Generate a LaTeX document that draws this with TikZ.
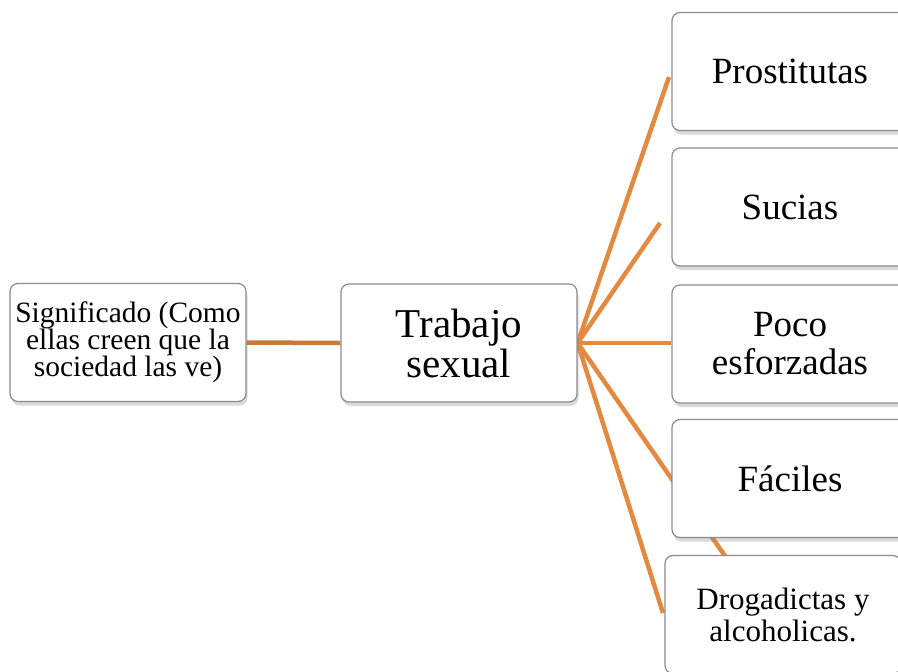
\documentclass[tikz,border=0pt]{standalone}
\usepackage{fontspec}
\setmainfont{Liberation Serif}
\usetikzlibrary{positioning,shadows,backgrounds}
\definecolor{lineorange}{RGB}{227,138,64}
\definecolor{linebrown}{RGB}{200,122,58}
\definecolor{boxgray}{RGB}{140,140,140}
\tikzset{
  box/.style={draw=boxgray,line width=1.2pt,fill=white,rounded corners=8pt,
    minimum width=236pt,minimum height=118pt,align=center,inner sep=2pt,
    drop shadow={opacity=0.3,shadow xshift=1.5pt,shadow yshift=-4pt}},
  link/.style={lineorange,line width=4.5pt},
}

\begin{document}
\begin{tikzpicture}[x=1pt,y=-1pt]
\useasboundingbox (0,0) rectangle (898,672);

\node[box,font=\fontsize{29.5}{27}\selectfont] (signif) at (128,342.5) {Significado (Como\\ellas creen que la\\sociedad las ve)};
\node[box,font=\fontsize{41}{40}\selectfont] (trab) at (459,343) {Trabajo\\sexual};

\node[box,font=\fontsize{37}{38}\selectfont] (prost) at (790,71.5) {Prostitutas};
\node[box,font=\fontsize{37}{38}\selectfont] (sucias) at (790,207) {Sucias};
\node[box,font=\fontsize{37}{38}\selectfont] (poco) at (790,344) {Poco\\esforzadas};
\node[box,font=\fontsize{37}{38}\selectfont] (faciles) at (790,478.5) {Fáciles};
\node[box,font=\fontsize{31}{32}\selectfont] (droga) at (783,614.5) {Drogadictas y\\alcoholicas.};

\coordinate (endA) at (669,77);
\coordinate (endB) at (660,223);
\coordinate (endD) at (725,556);
\coordinate (endE) at (663,613);

\begin{pgfonlayer}{background}
\draw [link,linebrown](signif.east)--(trab.west);
\draw [link](trab.east)--(endA);
\draw [link](trab.east)--(endB);
\draw [link](trab.east)--(trab.east-|poco.west);
\draw [link](trab.east)--(endD);
\draw [link](trab.east)--(endE);
\end{pgfonlayer}
\end{tikzpicture}
\end{document}
